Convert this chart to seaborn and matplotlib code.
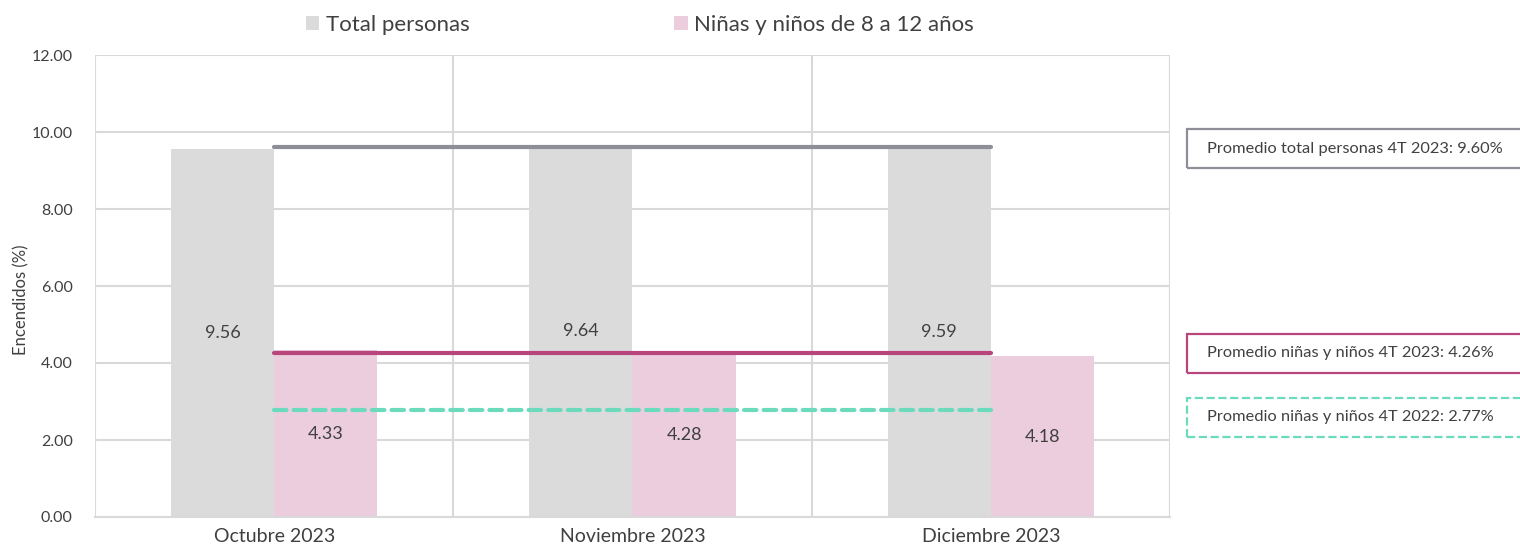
import pandas as pd
import seaborn as sns
import matplotlib.pyplot as plt
from matplotlib.patches import Rectangle

sns.set_theme(style="white")
plt.rcParams["font.family"] = ["Lato", "DejaVu Sans"]

# Data
months = ["Octubre 2023", "Noviembre 2023", "Diciembre 2023"]
series = ["Total personas", "Niñas y niños de 8 a 12 años"]
total_values = [9.56, 9.64, 9.59]
kids_values = [4.33, 4.28, 4.18]
avg_total_2023 = 9.60
avg_kids_2023 = 4.26
avg_kids_2022 = 2.77

df = pd.DataFrame({
    "mes": months * 2,
    "serie": [series[0]] * 3 + [series[1]] * 3,
    "valor": total_values + kids_values,
})

text_color = "#404040"
grid_color = "#d9d9d9"
bar_colors = ["#dbdbdb", "#ebcddd"]
line_gray = "#8e8e98"
line_pink = "#b8457c"
line_teal = "#6cdbbd"

fig = plt.figure(figsize=(15.2, 5.5), dpi=100)
ax = fig.add_axes([0.0625, 0.06, 0.7072, 0.84])

sns.barplot(
    data=df, x="mes", y="valor", hue="serie",
    palette=bar_colors, width=0.576, saturation=1, linewidth=0,
    ax=ax, legend=True,
)

# Value labels centered inside each bar
for container in ax.containers:
    ax.bar_label(container, labels=[f"{v.get_height():.2f}" for v in container],
                 label_type="center", fontsize=13, color=text_color)

# Average lines
ax.plot([0, 2], [avg_total_2023] * 2, color=line_gray, lw=3, solid_capstyle="round")
ax.plot([0, 2], [avg_kids_2023] * 2, color=line_pink, lw=3, solid_capstyle="round")
ax.plot([0, 2], [avg_kids_2022] * 2, color=line_teal, lw=3,
        linestyle=(0, (3, 1.7)), dash_capstyle="round")

ax.set_xlim(-0.5, 2.5)
ax.set_ylim(0, 12)
ax.set_yticks(range(0, 13, 2))
ax.set_yticklabels([f"{v:.2f}" for v in range(0, 13, 2)])
ax.set_xticks([-0.5, 0.5, 1.5, 2.5], minor=True)
ax.grid(axis="y", color=grid_color, lw=1.5)
ax.grid(axis="x", which="minor", color=grid_color, lw=1.5)
ax.set_axisbelow(True)
for side in ["top", "right", "left"]:
    ax.spines[side].set_visible(False)
ax.spines["bottom"].set_color(grid_color)
ax.spines["bottom"].set_linewidth(1.5)
ax.tick_params(axis="y", length=0, labelsize=11.5, colors=text_color, pad=16)
ax.tick_params(axis="x", length=0, labelsize=14, colors=text_color, pad=8)
ax.set_xlabel("")
ax.set_ylabel("Encendidos (%)", fontsize=12, color=text_color)
ax.yaxis.set_label_coords(-0.061, 0.47)

# Legend on top
handles, labels = ax.get_legend_handles_labels()
ax.legend(handles, labels, loc="lower center", bbox_to_anchor=(0.507, 1.0),
          ncol=2, frameon=False, fontsize=16, handlelength=0.6, handleheight=0.6,
          columnspacing=9.2, handletextpad=0.3, labelcolor=text_color)

# Annotation boxes on the right
boxes = [
    (129, "Promedio total personas 4T 2023: 9.60%", line_gray, "-"),
    (334, "Promedio niñas y niños 4T 2023: 4.26%", line_pink, "-"),
    (398, "Promedio niñas y niños 4T 2022: 2.77%", line_teal, "--"),
]
for top_px, label, color, ls in boxes:
    x0 = 1187 / 1520
    y0 = 1 - (top_px + 39) / 550
    fig.patches.append(Rectangle((x0, y0), 0.23, 39 / 550, transform=fig.transFigure,
                                 fill=False, edgecolor=color, lw=1.6, linestyle=ls))
    fig.text(1207 / 1520, y0 + 19.5 / 550, label, fontsize=11.8,
             color=text_color, va="center", ha="left")

plt.savefig("out.png", dpi=100)
